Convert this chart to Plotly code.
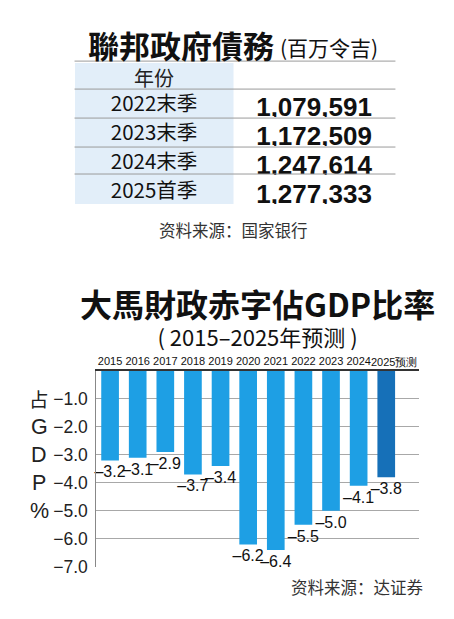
import plotly.graph_objects as go

# --- data ---
debt_years = ["2022末季", "2023末季", "2024末季", "2025首季"]
debt_values = ["1,079,591", "1,172,509", "1,247,614", "1,277,333"]

deficit_years = ["2015", "2016", "2017", "2018", "2019", "2020",
                 "2021", "2022", "2023", "2024", "2025预测"]
deficit_values = [-3.2, -3.1, -2.9, -3.7, -3.4, -6.2, -6.4, -5.5, -5.0, -4.1, -3.8]

ytick_vals = [-1, -2, -3, -4, -5, -6, -7]
ytick_text = ["−1.0", "−2.0", "−3.0", "−4.0", "−5.0", "−6.0", "−7.0"]

# page body has an 8px margin; the snapshot comes out slightly shrunk,
# so positions below are given in snapshot pixels and mapped back
OFF = 8
SX, SY = 0.966, 0.984
W, H = 454 - 2 * OFF, 619 - 2 * OFF
SANS = "Liberation Sans, Arial, sans-serif"
CJK = "Noto Sans CJK SC, sans-serif"


def px(x):
    return (x / SX - OFF) / W


def py(y):
    return 1 - (y / SY - OFF) / H


fig = go.Figure()

# table: federal government debt
fig.add_trace(go.Table(
    domain=dict(x=[px(72), px(382)], y=[py(205), py(63)]),
    columnwidth=[154, 156],
    header=dict(
        values=["年份", ""],
        fill_color=["#e2eef9", "white"],
        line=dict(color="rgba(0,0,0,0)", width=0),
        font=dict(family=CJK, size=20, color="#222"),
        align="center",
        height=25,
    ),
    cells=dict(
        values=[debt_years, debt_values],
        fill_color=["#e2eef9", "white"],
        line=dict(color="rgba(0,0,0,0)", width=0),
        font=dict(family=[CJK, SANS], size=[20.5, 26], color="#111",
                  weight=["normal", "bold"]),
        align="center",
        height=29,
    ),
))

# horizontal rules of the table
for yy in [61, 89, 118, 147, 174]:
    fig.add_shape(type="line", xref="paper", yref="paper",
                  x0=px(72), x1=px(382), y0=py(yy), y1=py(yy),
                  line=dict(color="#9a9a9a", width=1))

# bar chart: deficit as % of GDP
colors = ["#1e9fe4"] * (len(deficit_values) - 1) + ["#1670b8"]
fig.add_trace(go.Bar(
    x=deficit_years, y=deficit_values,
    marker=dict(color=colors, line=dict(width=0)),
    text=[f"–{abs(v):.1f}" for v in deficit_values],
    textposition="outside",
    constraintext="none",
    textfont=dict(family=SANS, size=16, color="#111"),
    cliponaxis=False,
    width=0.64,
    showlegend=False,
))

fig.update_layout(
    width=W, height=H,
    margin=dict(l=0, r=0, t=0, b=0),
    paper_bgcolor="white", plot_bgcolor="white",
    xaxis=dict(
        domain=[px(93), px(405)],
        side="top",
        showline=True, linecolor="#333", linewidth=1.5,
        ticks="", ticklen=0, tickangle=0, ticklabelstandoff=0,
        tickvals=deficit_years,
        # the forecast label is set a little to the right, see below
        ticktext=deficit_years[:-1] + [""],
        tickfont=dict(family=SANS, size=11, color="#111"),
        anchor="y",
    ),
    yaxis=dict(
        domain=[py(567), py(371)],
        range=[-7, 0],
        tickvals=ytick_vals, ticktext=ytick_text,
        tickfont=dict(family=SANS, size=17.5, color="#222"),
        showgrid=True, gridcolor="#a8a8a8", gridwidth=1,
        showline=True, linecolor="#888", linewidth=1,
        zeroline=False, ticks="", ticklabelstandoff=4,
    ),
    font=dict(family=CJK),
)

annotations = [
    dict(x=px(83), y=py(44), text="<b>聯邦政府債務</b>", font=dict(size=31, color="#111"),
         xanchor="left"),
    dict(x=px(269), y=py(47), text="(百万令吉)", font=dict(size=21, color="#111"),
         xanchor="left"),
    dict(x=px(226), y=py(230), text="资料来源：国家银行", font=dict(size=16.5, color="#333"),
         xanchor="center"),
    dict(x=px(249), y=py(316),
         text="<span style='font-size:32px'><b>大馬財政赤字佔GDP比率</b></span>"
              "<br>( 2015–2025年预测 )",
         font=dict(size=22, color="#111"), xanchor="center"),
    dict(x=px(345), y=py(587), text="资料来源：达证券", font=dict(size=16.5, color="#333"),
         xanchor="center"),
]
for a in annotations:
    a.update(xref="paper", yref="paper", yanchor="middle", showarrow=False)
    fig.add_annotation(**a)

# forecast year label, nudged right like the original
fig.add_annotation(x=deficit_years[-1], y=0, xref="x", yref="y",
                   text="2025<span style='font-size:10.5px'>预测</span>",
                   xanchor="center", yanchor="bottom", xshift=8, yshift=1,
                   showarrow=False, font=dict(family=SANS, size=11, color="#111"))

# vertical axis title, one glyph per row
for ch, yv in zip(["占", "G", "D", "P", "%"], ytick_vals[:5]):
    fig.add_annotation(x=px(38), y=yv, xref="paper", yref="y", text=ch,
                       xanchor="center", yanchor="middle", showarrow=False,
                       font=dict(family=CJK if ch == "占" else SANS,
                                 size=19.5 if ch == "占" else 21.5, color="#222"))

fig.write_html("out.html")
